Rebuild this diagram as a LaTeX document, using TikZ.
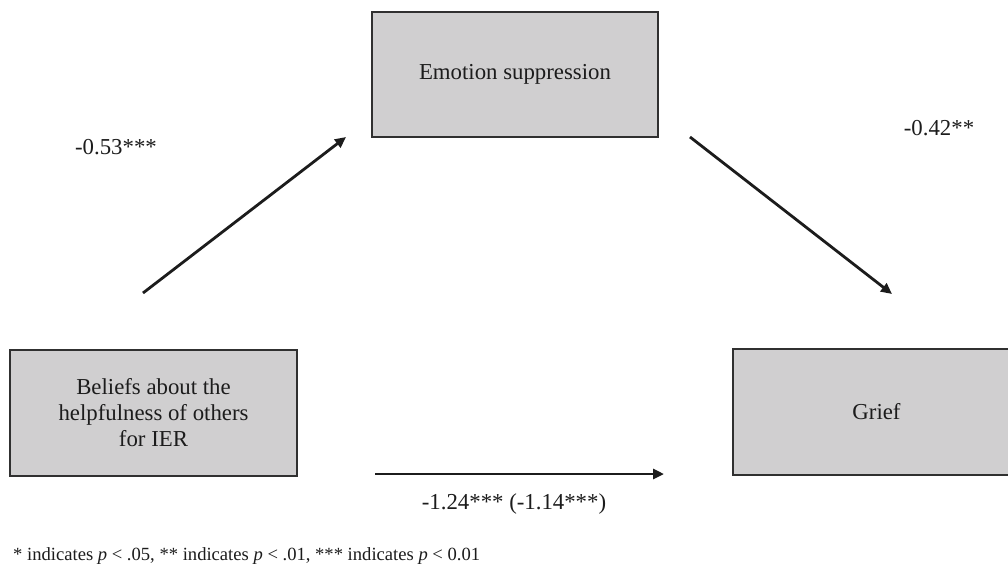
\documentclass[tikz,border=0pt]{standalone}
\usepackage{fontspec}
\setmainfont{Liberation Serif}
\usetikzlibrary{arrows.meta}
\definecolor{boxfill}{HTML}{D0CFD0}
\definecolor{boxline}{HTML}{303030}
\definecolor{ink}{HTML}{1C1C1C}
\tikzset{
  varbox/.style={draw=boxline, line width=1.8pt, fill=boxfill, inner sep=0pt,
    align=center, text=ink, font=\fontsize{22.8}{26}\selectfont},
  path/.style={draw=ink, line width=2.8pt, -{Triangle[length=11pt,width=10pt]}},
  coef/.style={anchor=base, text=ink, inner sep=0pt, font=\fontsize{22.8}{26}\selectfont},
  note/.style={anchor=base west, text=ink, inner sep=0pt, font=\fontsize{18.6}{22}\selectfont}
}
\begin{document}
\begin{tikzpicture}[x=1pt,y=-1pt]
\useasboundingbox[fill=white] (0,0) rectangle (1008,573);
\node[varbox, minimum width=286pt, minimum height=125pt] (es) at (515,74.5) {\raisebox{-3pt}{Emotion suppression}};
\node[varbox, minimum width=287pt, minimum height=126pt] (bel) at (153.5,413) {Beliefs about the\\helpfulness of others\\for IER};
\node[varbox, minimum width=287pt, minimum height=126pt] (grief) at (876.5,412) {Grief};
\coordinate (a1s) at (143,293);
\coordinate (a1e) at (346,137);
\coordinate (a2s) at (690,137);
\coordinate (a2e) at (892,294);
\coordinate (a3s) at (375,474);
\coordinate (a3e) at (664,474);
\draw[path] (a1s) -- (a1e);
\draw[path] (a2s) -- (a2e);
\draw[path] (a3s) -- (a3e);
\node[coef] (ca) at (116,154) {-0.53***};
\node[coef] (cb) at (939,135) {-0.42**};
\node[coef] (cc) at (514,509) {-1.24*** (-1.14***)};
\node[note] (fn) at (13,560) {* indicates \textit{p} < .05, ** indicates \textit{p} < .01, *** indicates \textit{p} < 0.01};
\end{tikzpicture}
\end{document}
